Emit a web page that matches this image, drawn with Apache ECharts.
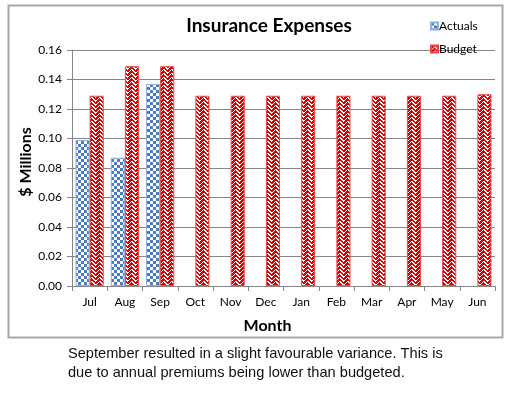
<!DOCTYPE html>
<html>
<head>
<meta charset="utf-8">
<script src="https://cdn.jsdelivr.net/npm/echarts@6/dist/echarts.min.js"></script>
<style>
  html, body { margin: 0; padding: 0; background: #fff; }
  #chart { width: 513px; height: 396px; }
</style>
</head>
<body>
<div id="chart"></div>
<script>
// 数据
var months = ['Jul', 'Aug', 'Sep', 'Oct', 'Nov', 'Dec', 'Jan', 'Feb', 'Mar', 'Apr', 'May', 'Jun'];
var actuals = [0.099, 0.087, 0.137, null, null, null, null, null, null, null, null, null];
var budget = [0.129, 0.149, 0.149, 0.129, 0.129, 0.129, 0.129, 0.129, 0.129, 0.129, 0.129, 0.130];
var yTicks = ['0.00', '0.02', '0.04', '0.06', '0.08', '0.10', '0.12', '0.14', '0.16'];
var caption = ['September resulted in a slight favourable variance. This is',
               'due to annual premiums being lower than budgeted.'];

// 棋盘格填充
function checker() {
    var c = document.createElement('canvas');
    c.width = 6; c.height = 6;
    var g = c.getContext('2d');
    g.fillStyle = '#fff';
    g.fillRect(0, 0, 6, 6);
    g.fillStyle = '#4a7cc0';
    g.fillRect(0, 0, 3, 3);
    g.fillRect(3, 3, 3, 3);
    return c;
}

// 红色锯齿填充
function zigzag() {
    var c = document.createElement('canvas');
    c.width = 8; c.height = 8;
    var g = c.getContext('2d');
    g.fillStyle = '#d80000';
    g.fillRect(0, 0, 8, 8);
    g.fillStyle = '#fff';
    for (var x = 0; x < 8; x++) {
        for (var y = 0; y < 8; y++) {
            var a = x < 4 ? (x + y) % 4 : (7 - x + y) % 4;
            if (a === 0 || (a === 1 && (x + y) % 2 === 0)) g.fillRect(x, y, 1, 1);
        }
    }
    return c;
}

var font = 'Lato, "Open Sans", sans-serif';

var option = {
    animation: false,
    title: {
        text: 'Insurance Expenses',
        left: 264, top: 11, textAlign: 'center',
        textStyle: {fontFamily: font, fontSize: 19, fontWeight: 'bold', color: '#000'}
    },
    legend: {
        orient: 'vertical',
        left: 425, top: 15,
        icon: 'rect',
        itemWidth: 7, itemHeight: 7, itemGap: 11,
        textStyle: {fontFamily: font, fontSize: 12, color: '#000', padding: [0, 0, 0, -4]},
        data: ['Actuals', 'Budget']
    },
    grid: {left: 72, right: 18, top: 50, bottom: 110},
    xAxis: {
        type: 'category',
        data: months,
        name: 'Month',
        nameLocation: 'middle',
        nameGap: 32,
        nameTextStyle: {fontFamily: font, fontSize: 16, fontWeight: 'bold', color: '#000', padding: [0, 32, 0, 0]},
        axisLine: {lineStyle: {color: '#868686'}},
        axisTick: {show: true, length: 5, lineStyle: {color: '#868686'}},
        axisLabel: {fontFamily: font, fontSize: 12, color: '#000', margin: 10}
    },
    yAxis: {
        type: 'value',
        min: 0, max: 0.16, interval: 0.02,
        name: '$ Millions',
        nameLocation: 'middle',
        nameGap: 38,
        nameMoveOverlap: false,
        nameTextStyle: {fontFamily: font, fontSize: 16, fontWeight: 'bold', color: '#000', padding: [0, 0, 0, 12]},
        axisLine: {show: true, lineStyle: {color: '#868686'}},
        axisTick: {show: true, length: 5, lineStyle: {color: '#868686'}},
        axisLabel: {
            fontFamily: font, fontSize: 12, color: '#000', margin: 10,
            formatter: function (v) { return yTicks[Math.round(v / 0.02)]; }
        },
        splitLine: {lineStyle: {color: '#868686'}}
    },
    series: [{
        name: 'Actuals',
        type: 'bar',
        data: actuals,
        barGap: '0%',
        barCategoryGap: '20%',
        itemStyle: {
            color: {image: checker(), repeat: 'repeat'},
            borderColor: '#8eb0dc', borderWidth: 1
        }
    }, {
        name: 'Budget',
        type: 'bar',
        data: budget,
        itemStyle: {
            color: {image: zigzag(), repeat: 'repeat'},
            borderColor: '#e44', borderWidth: 1
        }
    }],
    graphic: [{
        type: 'rect',
        shape: {x: 8.5, y: 5.5, width: 494, height: 332},
        style: {fill: 'none', stroke: '#a8a8a8', lineWidth: 2},
        z: -1
    }, {
        type: 'text',
        left: 68, top: 344,
        style: {
            text: caption.join('\n'),
            font: '14.6px Arial, "Liberation Sans", sans-serif',
            fill: '#111', lineHeight: 19
        }
    }]
};

var chart = echarts.init(document.getElementById('chart'));
chart.setOption(option);

window.onresize = function () {
    chart.resize();
};
</script>
</body>
</html>
